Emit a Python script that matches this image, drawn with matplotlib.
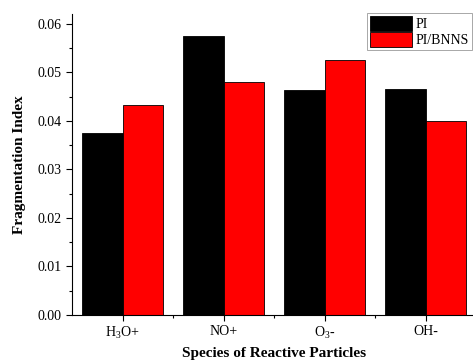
import numpy as np
import matplotlib
matplotlib.use('Agg')
import matplotlib.pyplot as plt
from matplotlib.ticker import MultipleLocator, FixedLocator

'''
Fragmentation index of PI vs PI/BNNS for reactive particle species
'''

species = ['H$_3$O+', 'NO+', 'O$_3$-', 'OH-']
pi = [0.0375, 0.0575, 0.0464, 0.0466]
pi_bnns = [0.0432, 0.0480, 0.0526, 0.0400]

plt.rcParams['font.family'] = ['Liberation Serif', 'DejaVu Serif']
plt.rcParams['mathtext.fontset'] = 'custom'
plt.rcParams['mathtext.rm'] = 'Liberation Serif'

fig = plt.figure(figsize=(4.73, 3.62), dpi=100)
ax = fig.add_axes([72/473, 1 - 315/362, 404/473, 301/362])

x = np.arange(len(species))
w = 0.4
ax.bar(x - w/2, pi, w, color='black', edgecolor='black', linewidth=0.6, label='PI')
ax.bar(x + w/2, pi_bnns, w, color='#ff0000', edgecolor='black', linewidth=0.6, label='PI/BNNS')

ax.set_xlim(-0.5, 3.5)
ax.set_xticks(x)
ax.set_xticklabels(species, fontsize=10)
ax.xaxis.set_minor_locator(FixedLocator(x[:-1] + 0.5))
ax.yaxis.set_minor_locator(MultipleLocator(0.005))
ax.set_yticks(np.arange(0, 0.061, 0.01))
ax.set_yticklabels(['%.2f' % v for v in np.arange(0, 0.061, 0.01)], fontsize=10)
ax.set_ylim(0, 0.062)

ax.tick_params(which='major', direction='out', length=4, width=0.8)
ax.tick_params(which='minor', direction='out', length=2.5, width=0.8)
ax.tick_params(axis='x', pad=3)

ax.spines['top'].set_visible(False)
ax.spines['right'].set_visible(False)

ax.set_xlabel('Species of Reactive Particles', fontsize=11, fontweight='bold', labelpad=4)
ax.set_ylabel('Fragmentation Index', fontsize=11, fontweight='bold', labelpad=8)

leg = ax.legend(loc='upper right', bbox_to_anchor=(400/404, 1.003), fontsize=10,
                frameon=True, fancybox=False, edgecolor='#808080', borderpad=0.2,
                handlelength=3.0, handleheight=1.3, handletextpad=0.3, labelspacing=0.05,
                borderaxespad=0)
leg.get_frame().set_linewidth(0.6)

plt.savefig('out.png', dpi=100)
